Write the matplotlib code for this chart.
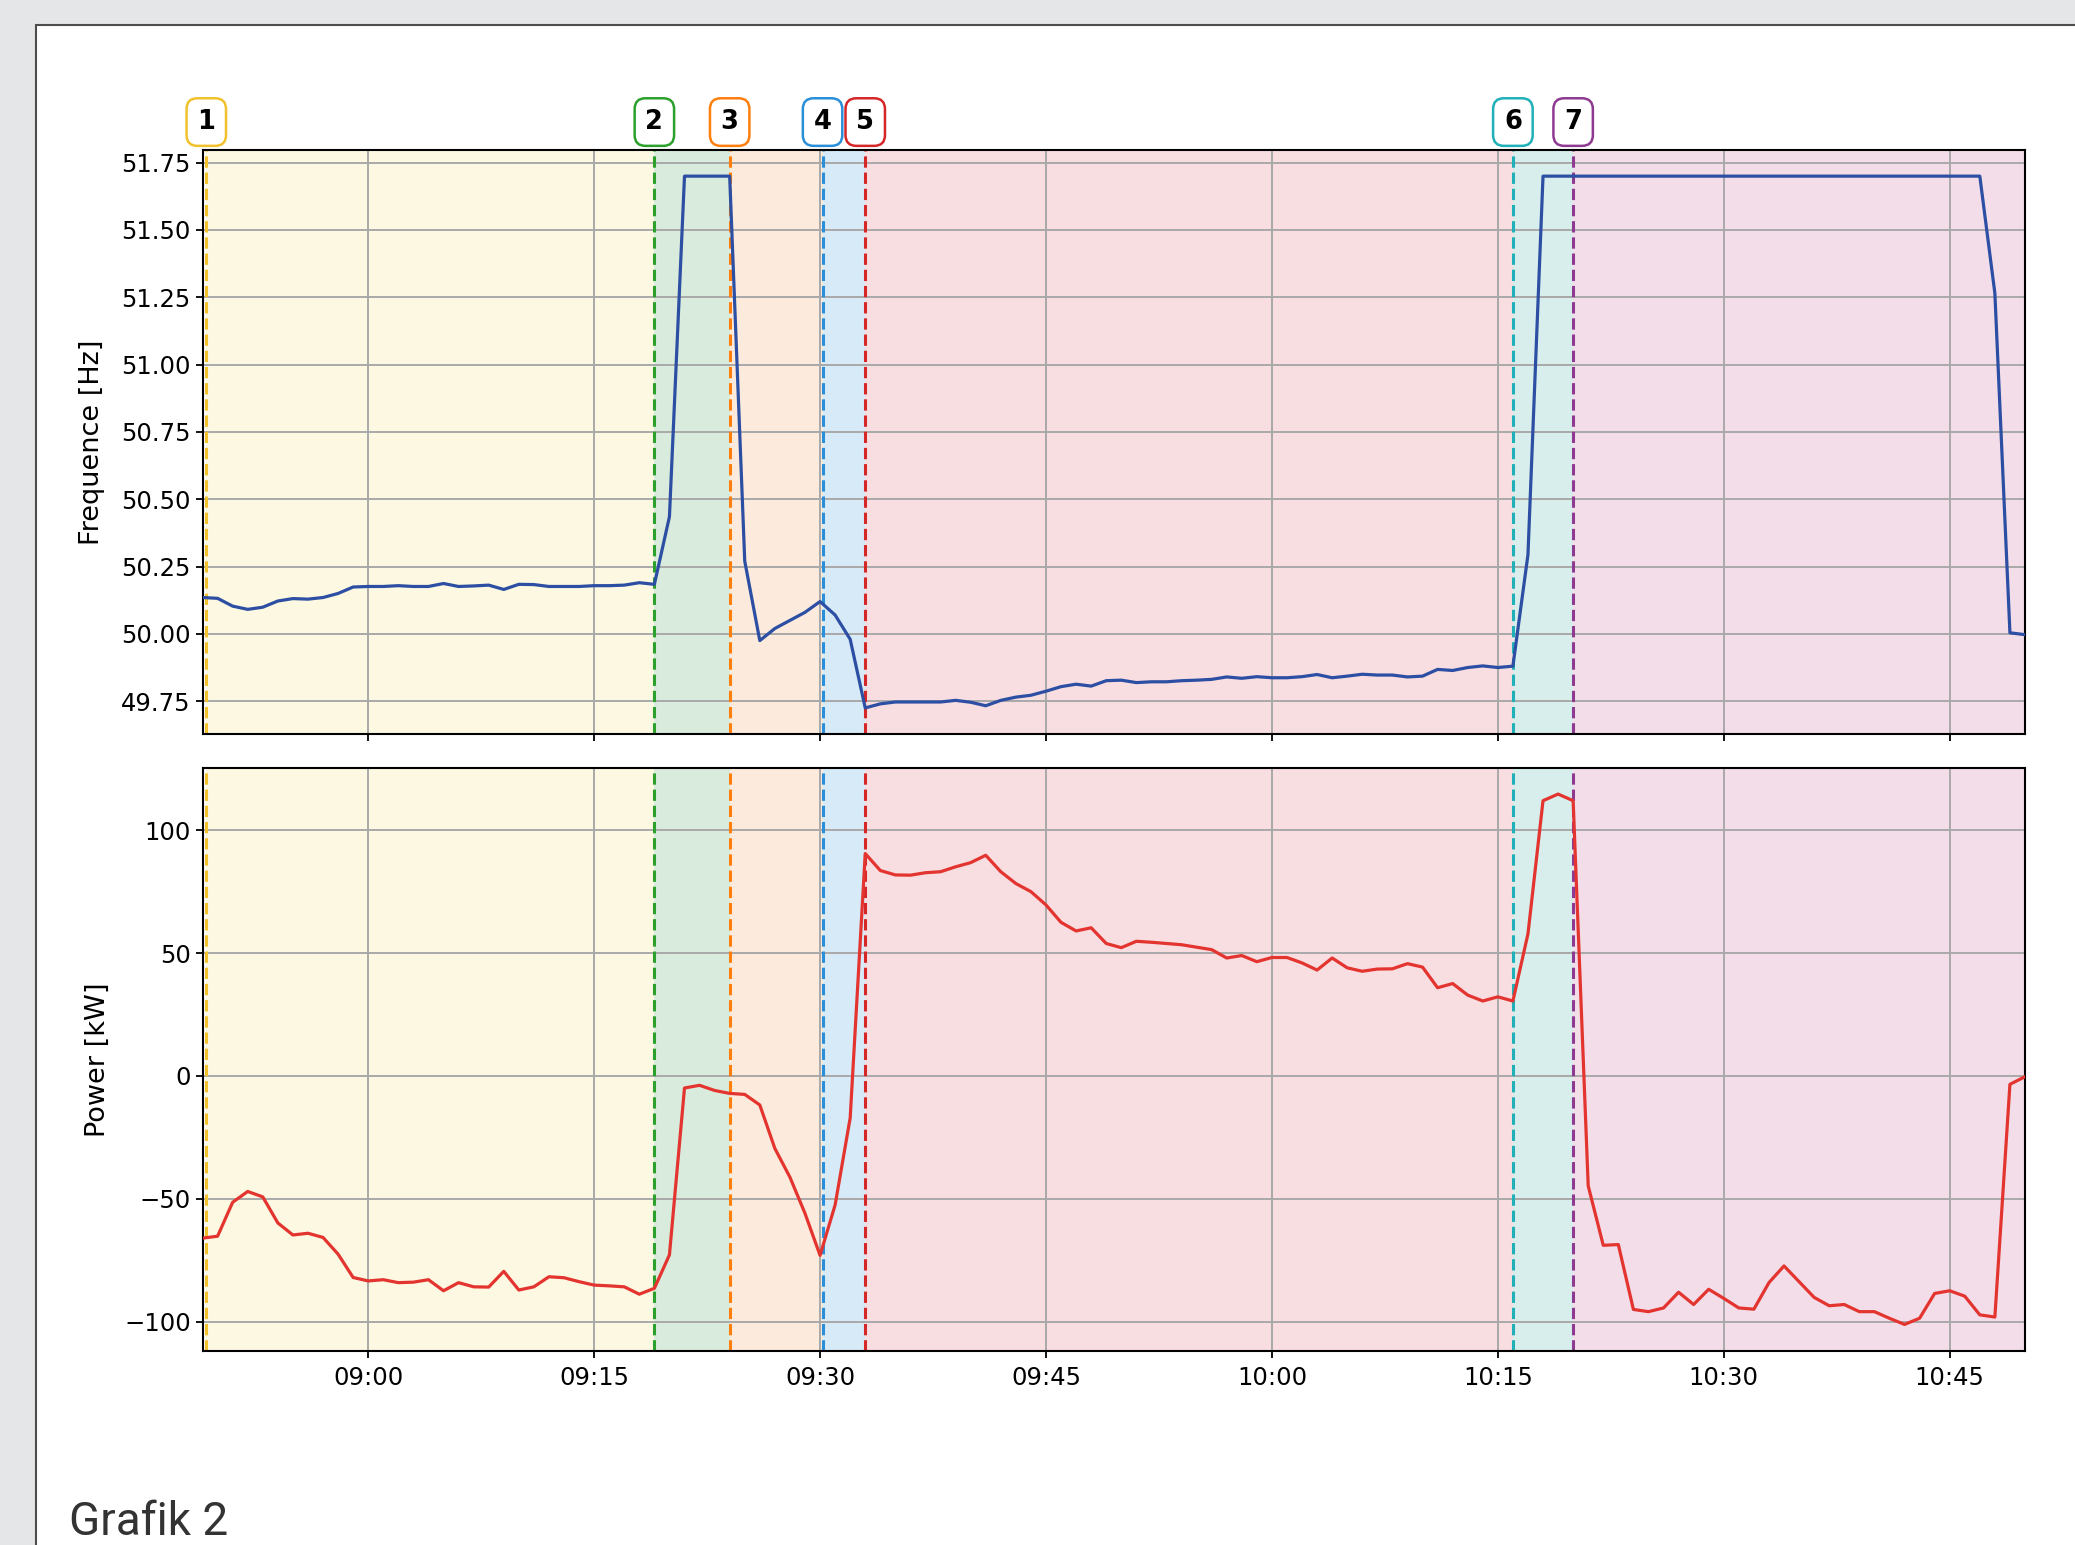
import numpy as np
import pandas as pd
import matplotlib
matplotlib.use('Agg')
import matplotlib.pyplot as plt
import matplotlib.dates as mdates
from matplotlib.patches import Rectangle

# one sample per minute, 08:49 .. 10:50
times = pd.date_range('2023-05-10 08:49', '2023-05-10 10:50', freq='1min')

freq_hz = [
    # 08:49 - 09:19
    50.135, 50.132, 50.103, 50.091, 50.099, 50.122, 50.131, 50.129, 50.135, 50.150,
    50.174, 50.176, 50.176, 50.179, 50.176, 50.176, 50.187, 50.176, 50.178, 50.181,
    50.165, 50.184, 50.183, 50.176, 50.176, 50.176, 50.179, 50.179, 50.181, 50.190,
    50.184,
    # 09:20 - 09:33
    50.435, 51.70, 51.70, 51.70, 51.70, 50.27, 49.975, 50.02, 50.05, 50.08,
    50.12, 50.07, 49.98, 49.725,
    # 09:34 - 10:15
    49.740, 49.747, 49.747, 49.747, 49.747, 49.753, 49.746, 49.733, 49.753, 49.765,
    49.772, 49.787, 49.804, 49.813, 49.806, 49.826, 49.828, 49.819, 49.822, 49.822,
    49.826, 49.828, 49.831, 49.840, 49.835, 49.841, 49.837, 49.837, 49.841, 49.849,
    49.837, 49.843, 49.850, 49.847, 49.847, 49.840, 49.843, 49.868, 49.864, 49.875,
    49.881, 49.875,
    # 10:16 - 10:50
    49.880, 50.294,
    51.70, 51.70, 51.70, 51.70, 51.70, 51.70, 51.70, 51.70, 51.70, 51.70,
    51.70, 51.70, 51.70, 51.70, 51.70, 51.70, 51.70, 51.70, 51.70, 51.70,
    51.70, 51.70, 51.70, 51.70, 51.70, 51.70, 51.70, 51.70, 51.70, 51.70,
    51.265, 50.004, 49.997,
]

power_kw = [
    # 08:49 - 09:19
    -66.0, -65.2, -51.4, -47.0, -49.2, -59.8, -64.7, -64.0, -65.7, -72.5,
    -82.0, -83.4, -82.9, -84.1, -83.9, -82.9, -87.4, -84.1, -85.8, -85.9,
    -79.5, -87.1, -85.8, -81.7, -82.1, -83.7, -85.1, -85.4, -85.8, -88.8,
    -86.4,
    # 09:20 - 09:33
    -72.8, -4.9, -3.8, -5.9, -7.1, -7.5, -11.8, -29.5, -41.2, -55.9,
    -73.0, -52.5, -17.1, 90.5,
    # 09:34 - 10:15
    83.6, 81.8, 81.7, 82.7, 83.1, 85.1, 86.8, 89.8, 83.1, 78.3,
    75.0, 69.6, 62.5, 59.0, 60.3, 53.9, 52.2, 54.8, 54.4, 53.9,
    53.4, 52.4, 51.4, 48.0, 49.0, 46.5, 48.2, 48.2, 46.0, 43.1,
    48.0, 44.0, 42.6, 43.5, 43.6, 45.7, 44.3, 35.9, 37.6, 32.9,
    30.5, 32.2,
    # 10:16 - 10:50
    30.5, 57.8, 112.0, 114.7, 112.0, -44.7, -68.9, -68.6, -95.0, -95.9,
    -94.4, -88.0, -93.0, -86.8, -90.5, -94.4, -94.9, -84.1, -77.3, -83.7,
    -90.1, -93.5, -93.0, -95.9, -95.9, -98.6, -101.1, -98.6, -88.5, -87.4,
    -89.6, -97.2, -98.1, -3.4, -0.3,
]

event_labels = ['1', '2', '3', '4', '5', '6', '7']
event_times = ['08:49:15', '09:19:00', '09:24:00', '09:30:10', '09:33:00', '10:16:00', '10:20:00']
event_colors = ['#f2c12e', '#2ca02c', '#ff7f0e', '#2a8fd8', '#d62728', '#1fb0b8', '#8e3a91']
span_colors = ['#fcf8e1', '#d9ebdc', '#fcebdc', '#d6ebf7', '#f8dde1', '#d7eeec', '#f3dde9']

freq_ticks = [49.75, 50.00, 50.25, 50.50, 50.75, 51.00, 51.25, 51.50, 51.75]
power_ticks = [-100, -50, 0, 50, 100]


def main():
    ev = [pd.Timestamp('2023-05-10 ' + s) for s in event_times]

    fig = plt.figure(figsize=(20.75, 15.45), dpi=100, facecolor='#e5e6e7')
    # white page with border at top / left
    fig.patches.append(Rectangle((36 / 2075, -0.01), 1.0, (1545 - 25) / 1545 + 0.01,
                                 transform=fig.transFigure, facecolor='white',
                                 edgecolor='#4d4d4d', lw=1.5, zorder=-10))

    ax1 = fig.add_axes([0.0976, 0.5246, 0.8783, 0.3786])
    ax2 = fig.add_axes([0.0976, 0.1256, 0.8783, 0.3776], sharex=ax1)

    for ax, vals, col in ((ax1, freq_hz, '#2c4ea3'), (ax2, power_kw, '#e3342f')):
        ax.plot(times, vals, color=col, lw=2.3, zorder=3)
        for i, t0 in enumerate(ev):
            t1 = ev[i + 1] if i + 1 < len(ev) else times[-1]
            ax.axvspan(t0, t1, color=span_colors[i], lw=0, zorder=0)
            ax.axvline(t0, color=event_colors[i], ls='--', lw=2.2, zorder=2)
        ax.grid(True, color='#a9a9a9', lw=1.4)
        ax.tick_params(labelsize=17.5, length=5, width=1.3)
        ax.tick_params(axis='x', pad=6)
        for sp in ax.spines.values():
            sp.set_linewidth(1.5)

    ax1.set_xlim(times[0], times[-1])
    ax1.set_yticks(freq_ticks)
    ax2.set_yticks(power_ticks)
    ax2.xaxis.set_major_locator(mdates.MinuteLocator(byminute=[0, 15, 30, 45]))
    ax2.xaxis.set_major_formatter(mdates.DateFormatter('%H:%M'))
    ax1.tick_params(labelbottom=False)

    ax1.set_ylabel('Frequence [Hz]', fontsize=19.5)
    ax1.yaxis.set_label_coords(-0.0535, 0.5)
    ax2.set_ylabel('Power [kW]', fontsize=19.5)
    ax2.yaxis.set_label_coords(-0.050, 0.5)

    # numbered event boxes above the top panel
    for lab, t0, col in zip(event_labels, ev, event_colors):
        ax1.text(mdates.date2num(t0), 1.047, lab, transform=ax1.get_xaxis_transform(),
                 ha='center', va='center', fontsize=18.5, fontweight='bold', color='black',
                 bbox=dict(boxstyle='round,pad=0.42', fc='white', ec=col, lw=1.8),
                 clip_on=False)

    fig.text(69 / 2075, 1 - 1535 / 1545, 'Grafik 2', va='baseline', ha='left',
             fontsize=33, color='#333333', family=['Roboto', 'DejaVu Sans'])

    fig.savefig('out.png', dpi=100, facecolor=fig.get_facecolor())


main()
